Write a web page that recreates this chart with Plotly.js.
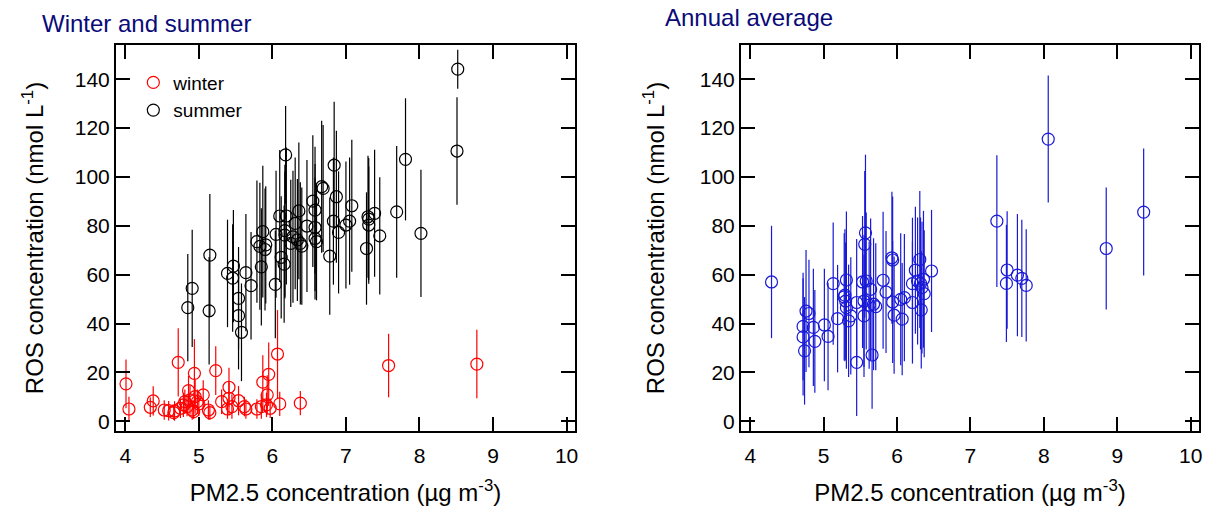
<!DOCTYPE html>
<html><head><meta charset="utf-8">
<script src="https://cdn.plot.ly/plotly-3.0.1.min.js"></script>
<style>body{margin:0;background:#fff}</style>
</head><body>
<div id="chart" style="width:1212px;height:517px"></div>
<script>
// Winter (left panel, red)
const winterX = [4.01,4.05,4.34,4.38,4.53,4.59,4.66,4.67,4.72,4.75,4.79,4.81,4.84,4.86,4.88,4.91,4.93,4.94,4.95,4.98,5.00,5.06,5.13,5.15,5.23,5.31,5.39,5.41,5.41,5.45,5.54,5.62,5.64,5.79,5.85,5.87,5.92,5.93,5.95,5.97,6.07,6.10,6.38,7.58,8.78];
const winterY = [15.3,5.0,5.7,8.3,4.6,4.3,3.5,4.2,24.1,5.3,6.7,8.0,6.0,12.5,8.7,4.6,3.9,19.6,10.1,8.0,7.1,10.8,4.6,3.5,20.7,8.0,5.0,13.9,9.4,6.0,8.4,6.0,5.0,5.0,6.0,16.0,6.7,10.8,19.2,5.3,27.5,7.1,7.4,22.8,23.4];
const winterErr = [10,5,4,6,4,4,3,4,14,4,5,5,4,6,6,4,3,14,7,5,5,6,4,3,10,5,4,8,7,5,6,4,4,4,5,11,5,8,13,4,18,5,5,13,14];

// Summer (left panel, black)
const summerX = [4.85,4.91,5.14,5.15,5.39,5.46,5.47,5.54,5.54,5.58,5.64,5.71,5.79,5.83,5.85,5.87,5.90,5.91,6.04,6.05,6.10,6.12,6.16,6.17,6.17,6.18,6.19,6.25,6.28,6.31,6.34,6.36,6.38,6.40,6.47,6.55,6.58,6.58,6.58,6.60,6.67,6.69,6.78,6.83,6.84,6.87,6.90,7.00,7.05,7.08,7.28,7.30,7.31,7.31,7.39,7.46,7.69,7.81,8.02,8.52,8.51];
const summerY = [46.5,54.4,45.2,68.0,60.5,58.6,63.5,50.3,43.2,36.4,60.8,55.5,73.5,71.6,63.2,77.6,70.3,72.2,56.0,76.5,84.0,67.1,64.3,78.0,76.2,109.0,84.0,72.8,75.5,81.0,74.2,86.1,72.8,71.7,79.9,90.1,86.4,79.3,74.8,73.5,96.0,95.3,67.6,81.9,104.8,91.9,77.3,80.3,81.9,88.2,70.7,83.7,82.7,80.3,85.1,75.9,85.7,107.2,76.9,144.1,110.6];
const summerErr = [22,24,22,25,22,22,23,21,22,20,24,22,25,26,24,27,25,24,22,26,27,25,24,27,26,20,28,26,27,27,25,28,25,24,27,27,26,26,25,24,27,26,24,26,26,27,25,26,26,27,23,25,25,24,26,24,27,25,26,8,22];

// Annual average (right panel, blue)
const annualX = [4.29,4.72,4.72,4.74,4.76,4.80,4.86,4.88,5.01,5.06,5.13,5.19,5.28,5.29,5.30,5.31,5.31,5.34,5.37,5.45,5.45,5.53,5.56,5.57,5.58,5.55,5.55,5.62,5.64,5.66,5.68,5.71,5.81,5.85,5.93,5.94,5.94,5.96,6.05,6.07,6.10,6.21,6.21,6.25,6.31,6.28,6.32,6.33,6.34,6.36,6.37,6.47,7.36,7.49,7.50,7.64,7.70,7.76,8.06,8.85,9.36];
const annualY = [57.0,38.8,34.5,28.8,45.1,44.1,38.4,32.7,39.4,34.7,56.3,42.0,50.9,51.6,49.2,57.8,46.5,41.1,43.1,48.6,24.1,57.0,72.4,77.1,57.4,49.2,43.1,47.5,54.0,27.1,47.9,46.9,57.7,52.9,66.9,66.0,48.8,43.4,49.9,41.8,50.6,48.6,56.3,61.8,66.2,57.4,56.4,45.6,54.7,58.1,52.2,61.5,81.9,56.4,61.9,59.8,58.5,55.6,115.5,70.7,85.6];
const annualErr = [23,22,24,22,25,22,24,21,23,22,25,22,26,27,24,28,25,23,24,26,22,27,30,32,28,27,25,26,29,22,27,26,28,25,27,26,25,24,27,23,26,25,27,26,28,26,27,24,27,28,26,25,27,24,24,25,24,23,26,25,26];

const xTicks = [4,5,6,7,8,9,10];
const yTicks = [0,20,40,60,80,100,120,140];

const FONT = 'Liberation Sans, Arial, Helvetica, sans-serif';
const RED = 'rgb(255,0,0)', BLACK = 'rgb(0,0,0)', BLUE = 'rgb(25,25,215)';

function tr(x, y, err, color, name, xa, ya, show) {
  return {
    type: 'scatter', mode: 'markers', x: x, y: y, name: name,
    xaxis: xa, yaxis: ya, showlegend: show,
    marker: {symbol: 'circle-open', size: 12, color: color, line: {width: 1.2, color: color}},
    error_y: {type: 'data', array: err, visible: true, color: color, thickness: 1.2, width: 0}
  };
}

const data = [
  tr(summerX, summerY, summerErr, BLACK, 'summer', 'x', 'y', true),
  tr(winterX, winterY, winterErr, RED, 'winter', 'x', 'y', true),
  tr(annualX, annualY, annualErr, BLUE, 'annual', 'x2', 'y2', false)
];

function xax(domain, anchor) {
  return {
    domain: domain, anchor: anchor, range: [3.874, 10.114],
    tickvals: xTicks, ticktext: xTicks.map(String),
    ticks: 'inside', ticklen: 14, tickwidth: 2, tickcolor: '#000',
    showline: true, linewidth: 2, linecolor: '#000', mirror: 'ticks',
    showgrid: false, zeroline: false, ticklabelstandoff: 5,
    tickfont: {family: FONT, size: 21, color: '#000'},
    title: {text: 'PM2.5 concentration (µg m<sup>-3</sup>)', font: {family: FONT, size: 24, color: '#000'}, standoff: 18}
  };
}
function yax(anchor, so) {
  return {
    anchor: anchor, range: [-4, 154],
    tickvals: yTicks, ticktext: yTicks.map(String),
    ticks: 'inside', ticklen: 14, tickwidth: 2, tickcolor: '#000',
    showline: true, linewidth: 2, linecolor: '#000', mirror: 'ticks',
    showgrid: false, zeroline: false,
    tickfont: {family: FONT, size: 21, color: '#000'},
    title: {text: 'ROS concentration (nmol L<sup>-1</sup>)', font: {family: FONT, size: 24, color: '#000'}, standoff: so}
  };
}

const layout = {
  width: 1212, height: 517,
  margin: {l: 116, r: 13, t: 45, b: 86},
  paper_bgcolor: '#fff', plot_bgcolor: '#fff',
  font: {family: FONT, color: '#000'},
  xaxis: xax([0, 0.4238], 'y'),
  yaxis: yax('x', 24),
  xaxis2: xax([0.5771, 1], 'y2'),
  yaxis2: yax('x2', 28),
  legend: {x: 0.016, y: 0.952, xanchor: 'left', yanchor: 'top', bgcolor: 'rgba(0,0,0,0)',
           font: {family: FONT, size: 19, color: '#000'}, traceorder: 'reversed', tracegroupgap: 0},
  annotations: [
    {text: 'Winter and summer', xref: 'paper', yref: 'paper', x: -0.07, y: 1.056, xanchor: 'left', yanchor: 'middle',
     showarrow: false, font: {family: FONT, size: 24, color: 'rgb(10,10,120)'}},
    {text: 'Annual average', xref: 'paper', yref: 'paper', x: 0.505, y: 1.07, xanchor: 'left', yanchor: 'middle',
     showarrow: false, font: {family: FONT, size: 24, color: 'rgb(10,10,120)'}}
  ]
};

Plotly.newPlot('chart', data, layout, {displayModeBar: false, staticPlot: true});
</script>
</body></html>
